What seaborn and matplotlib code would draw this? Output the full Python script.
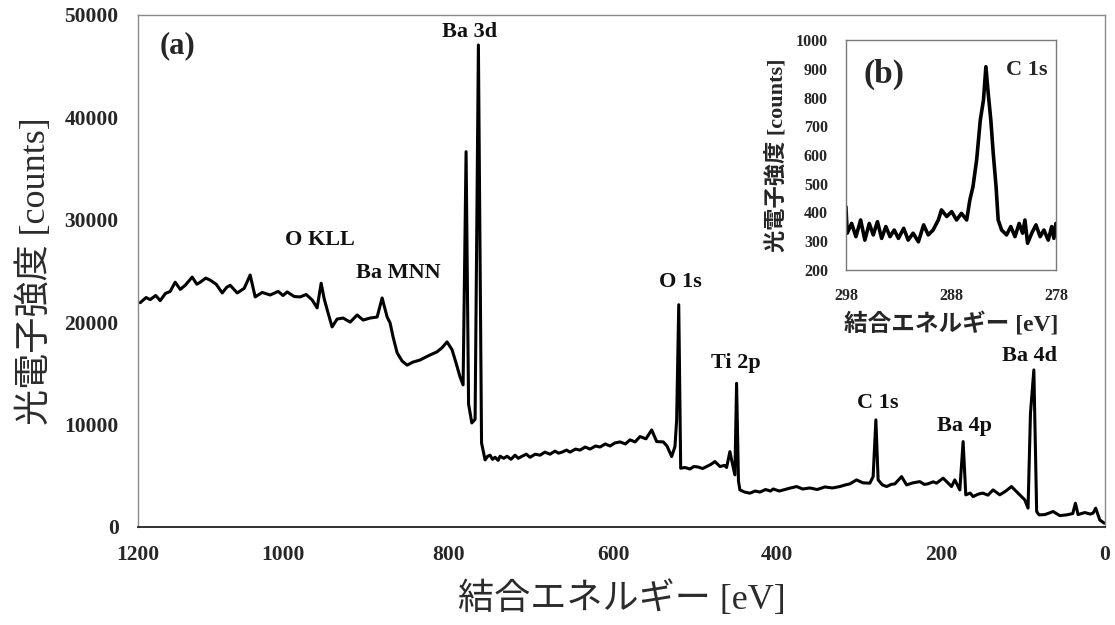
import matplotlib
matplotlib.use("Agg")
import matplotlib.pyplot as plt
import numpy as np
import pandas as pd
import seaborn as sns

# survey spectrum (binding energy eV, counts)
energy = [1197.3, 1190.0, 1184.9, 1178.0, 1172.5, 1166.0, 1160.1, 1153.9, 1147.6, 1141.4,
          1132.8, 1127.0, 1122.8, 1116.0, 1110.4, 1103.0, 1095.5, 1090.0, 1085.6, 1076.9,
          1068.2, 1060.8, 1054.6, 1045.9, 1036.0, 1026.0, 1020.0, 1014.9, 1006.2, 998.8,
          991.3, 983.9, 977.7, 972.7, 969.0, 965.2, 959.1, 952.9, 945.4, 936.7,
          928.0, 920.6, 911.9, 903.2, 897.0, 890.8, 887.1, 883.4, 878.4, 872.2,
          866.0, 858.6, 849.9, 840.0, 828.8, 822.6, 816.4, 810.2, 805.2, 800.3,
          796.5, 792.8, 789.7, 785.7, 781.6, 777.5, 773.6, 769.2, 766.0, 763.0,
          760.0, 756.8, 753.0, 750.6, 746.0, 741.9, 737.0, 732.0, 728.0, 723.3,
          718.0, 713.4, 707.0, 701.0, 695.0, 688.6, 682.4, 678.0, 673.7, 668.0,
          663.8, 657.0, 651.4, 645.0, 639.0, 632.0, 626.5, 620.0, 614.1, 608.0,
          601.7, 595.0, 589.3, 583.0, 576.9, 569.5, 562.4, 556.2, 548.0, 543.4,
          537.6, 533.5, 531.4, 528.8, 526.4, 521.1, 514.9, 510.0, 505.0, 499.0,
          494.2, 489.0, 483.9, 477.7, 472.0, 469.4, 465.3, 463.2, 459.1, 457.0,
          454.7, 452.9, 447.0, 440.5, 434.0, 428.0, 421.0, 415.0, 411.5, 404.0,
          397.0, 390.0, 382.5, 375.0, 366.0, 357.0, 347.4, 338.0, 328.8, 322.0,
          316.4, 308.1, 300.2, 291.6, 287.5, 284.1, 281.3, 276.0, 270.8, 265.0,
          260.5, 252.2, 246.0, 238.2, 229.5, 224.0, 219.6, 213.0, 208.8, 200.6,
          190.2, 186.1, 179.9, 175.8, 172.5, 167.0, 163.4, 157.0, 151.4, 145.0,
          138.6, 130.3, 122.8, 115.8, 107.6, 99.3, 95.2, 92.2, 88.0, 84.5,
          81.5, 74.4, 69.0, 64.1, 55.8, 47.5, 39.7, 36.4, 33.1, 24.8,
          18.0, 14.5, 11.2, 6.2, 0.5]
counts = [21900, 22400, 22200, 22600, 22100, 22800, 23000, 23900, 23200, 23600,
          24400, 23700, 23900, 24300, 24100, 23700, 22850, 23400, 23600, 22850,
          23300, 24600, 22460, 22900, 22650, 23000, 22600, 22950, 22500, 22460,
          22700, 22170, 21390, 23800, 22300, 21200, 19530, 20300, 20400, 20000,
          20700, 20200, 20400, 20500, 22360, 20500, 19920, 18550, 17000, 16200,
          15800, 16100, 16300, 16700, 17100, 17500, 18070, 17300, 16000, 14650,
          13870, 36650, 12000, 10150, 10500, 47070, 8200, 6540, 6900, 7000,
          6600, 6800, 6500, 6900, 6700, 6900, 6600, 7000, 6700, 6900,
          7100, 6800, 7100, 7000, 7300, 7100, 7400, 7200, 7300, 7500,
          7300, 7600, 7500, 7800, 7600, 7900, 7800, 8100, 7900, 8200,
          8300, 8100, 8500, 8300, 8820, 8600, 9470, 8330, 8300, 7900,
          6870, 7840, 10450, 21700, 5730, 5800, 5650, 5900, 5850, 5700,
          5890, 6100, 6380, 5900, 6000, 5800, 7350, 6540, 5080, 14030,
          4500, 3610, 3400, 3290, 3500, 3400, 3650, 3500, 3700, 3500,
          3650, 3800, 3940, 3700, 3800, 3650, 3900, 3800, 3940, 4100,
          4200, 4590, 4300, 4270, 4910, 10450, 4590, 4100, 3940, 4150,
          4200, 4910, 4100, 4300, 4420, 4150, 4200, 4400, 4270, 4760,
          3940, 4590, 3610, 8330, 3130, 3300, 2960, 3200, 3300, 3100,
          3610, 3130, 3500, 3940, 3290, 2640, 1830, 11100, 15330, 1500,
          1170, 1200, 1350, 1500, 1100, 1170, 1300, 2310, 1200, 1400,
          1250, 1340, 1830, 680, 360]

# C 1s detail
c1s_energy = [298.0, 297.88, 297.46, 297.05, 296.6, 296.2, 295.78, 295.4, 295.0, 294.6,
              294.2, 293.8, 293.4, 293.0, 292.5, 292.07, 291.6, 291.1, 290.6, 290.16,
              289.7, 289.2, 288.9, 288.4, 287.93, 287.46, 287.0, 286.5, 286.2, 285.9,
              285.55, 285.2, 284.9, 284.67, 284.45, 284.2, 283.97, 283.7, 283.5, 283.17,
              282.7, 282.3, 281.9, 281.5, 281.17, 280.95, 280.7, 280.3, 279.9, 279.5,
              279.14, 278.73, 278.4, 278.19, 278.0]
c1s_counts = [420, 328, 362, 316, 374, 304, 362, 322, 368, 310,
              351, 316, 339, 310, 345, 304, 328, 298, 357, 322,
              339, 374, 409, 386, 403, 374, 397, 374, 443, 490,
              583, 722, 791, 907, 815, 722, 606, 490, 374, 339,
              322, 351, 316, 362, 328, 374, 293, 328, 357, 316,
              339, 304, 351, 310, 362]

peak_labels = ["Ba 3d", "O KLL", "Ba MNN", "O 1s", "Ti 2p", "C 1s", "Ba 4p", "Ba 4d"]
peak_pos = [(789, 48300), (974, 28000), (877, 24800), (527, 23900),
            (458, 16000), (282, 12100), (174, 9850), (94, 16700)]

x_tick_pos = [1200, 1020, 815, 610, 407, 203, 0]
x_tick_lab = ["1200", "1000", "800", "600", "400", "200", "0"]

sns.set_style("white")
serif_jp = ["Liberation Serif", "Noto Sans CJK JP"]
plt.rcParams["font.family"] = serif_jp

fig = plt.figure(figsize=(11.15, 6.25), dpi=100)
ax = fig.add_axes([0.1238, 0.157, 0.867, 0.819])

df = pd.DataFrame({"E": energy, "I": counts})
sns.lineplot(data=df, x="E", y="I", ax=ax, color="black", lw=2.2, estimator=None, sort=False)
ax.set_xlim(1200, 0)
ax.set_ylim(0, 50000)
ax.set_xticks(x_tick_pos)
ax.set_xticklabels(x_tick_lab)
ax.set_yticks(range(0, 50001, 10000))
for lab in ax.get_xticklabels() + ax.get_yticklabels():
    lab.set_fontweight("bold")
    lab.set_fontsize(15.5)
ax.tick_params(axis="x", direction="in", length=10, width=1.8, color="black", pad=13)
ax.tick_params(axis="y", length=0, pad=14)
for s in ["left", "top", "right"]:
    ax.spines[s].set_color("#8a8a8a")
    ax.spines[s].set_linewidth(1.0)
ax.spines["bottom"].set_color("#222222")
ax.spines["bottom"].set_linewidth(1.3)
ax.set_xlabel("結合エネルギー [eV]", fontsize=26, color="#2b2b2b", labelpad=12)
ax.set_ylabel("光電子強度 [counts]", fontsize=26, color="#2b2b2b", labelpad=8)

ax.text(1151, 47000, "(a)", fontsize=22, fontweight="bold", ha="center", va="center")
for t, (px, py) in zip(peak_labels, peak_pos):
    ax.text(px, py, t, fontsize=16, fontweight="bold", ha="center", va="center", color="#111111")

# inset
ins = fig.add_axes([0.7587, 0.568, 0.1883, 0.368])
di = pd.DataFrame({"E": c1s_energy, "I": c1s_counts})
sns.lineplot(data=di, x="E", y="I", ax=ins, color="black", lw=2.6, estimator=None, sort=False)
ins.set_xlim(298, 278)
ins.set_ylim(200, 1000)
ins.set_xticks([298, 288, 278])
ins.set_yticks(range(200, 1001, 100))
for lab in ins.get_xticklabels() + ins.get_yticklabels():
    lab.set_fontweight("bold")
    lab.set_fontsize(11.5)
ins.tick_params(length=0, pad=13)
for s in ins.spines.values():
    s.set_color("#7a7a7a")
    s.set_linewidth(1.0)
ins.set_xlabel("結合エネルギー [eV]", fontsize=17, fontweight="bold", labelpad=6)
ins.set_ylabel("光電子強度 [counts]", fontsize=16, fontweight="bold", labelpad=6)
ins.text(294.4, 880, "(b)", fontsize=24, fontweight="bold", ha="center", va="center")
ins.text(280.8, 895, "C 1s", fontsize=16, fontweight="bold", ha="center", va="center")

fig.savefig("out.png", dpi=100)
